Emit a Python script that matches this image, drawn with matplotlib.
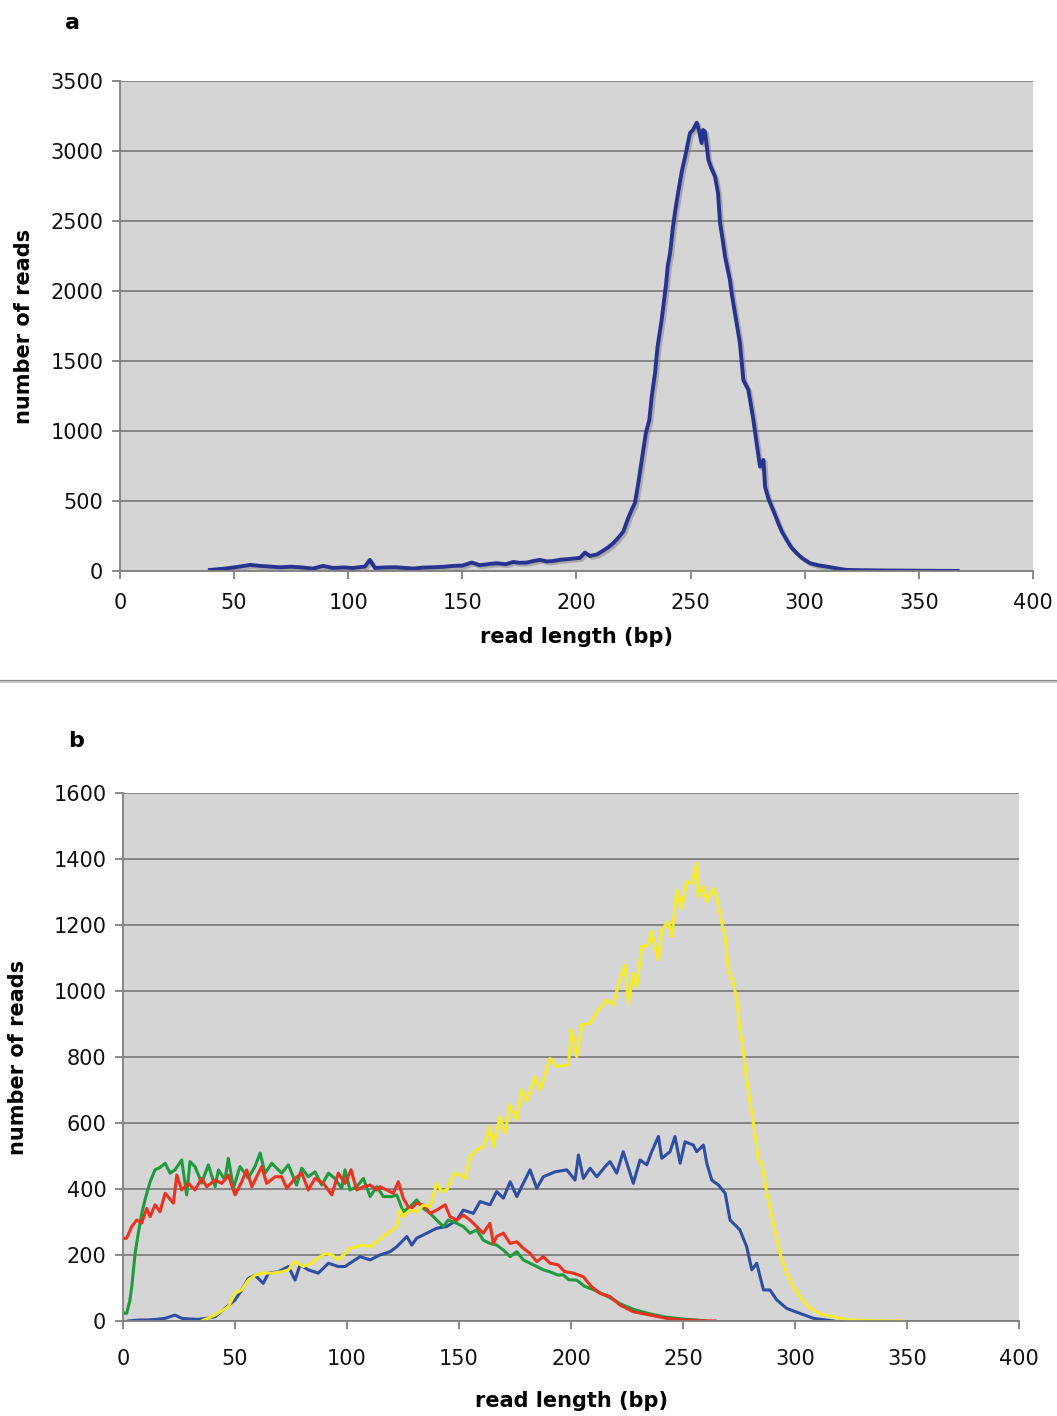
import numpy as np
import matplotlib
matplotlib.use('Agg')
import matplotlib.pyplot as plt
import matplotlib.patheffects as pe
from matplotlib.lines import Line2D

# panel a: all reads
len_a = [39.4, 45, 50.4, 54, 57, 61.3, 65, 70, 75, 78.9, 84.6, 89, 93.3, 98, 102, 107.3, 109.5, 111.7,
	116, 121.2, 128.4, 133, 137.1, 142, 146, 150, 154.1, 157.7, 162, 165, 169, 172.3, 175, 178.2, 181,
	184, 187, 189.8, 193, 197.2, 201.5, 203.7, 205.9, 209, 211.7, 214, 216.1, 218.5, 220.5, 222.7, 224,
	225.6, 227, 228.6, 230.4, 231.9, 233, 234.4, 235.5, 237.3, 239.2, 240, 241, 242.2, 243.2, 244.5,
	246.1, 248, 249.7, 251, 252.7, 253.6, 254.8, 255.5, 256.3, 257.8, 259, 260.7, 262, 262.9, 264,
	265.1, 267.2, 268, 269.4, 271.6, 273.1, 275.3, 277.5, 278.9, 280.4, 281.9, 282.6, 284, 285.5, 287,
	288.4, 290, 292.1, 294, 296.5, 299, 302.3, 306, 309.6, 314, 318.4, 325, 335, 345, 355, 367]
reads_a = [7, 15, 26, 35, 43, 36, 32, 26, 30, 26, 17, 36, 21, 25, 21, 31, 79, 21,
	25, 26, 17, 24, 26, 30, 36, 38, 60, 41, 50, 55, 48, 64, 58, 60, 70,
	79, 68, 71, 80, 86, 93, 131, 107, 118, 145, 170, 198, 240, 281, 380, 430,
	486, 620, 793, 986, 1078, 1250, 1414, 1600, 1793, 2043, 2180, 2271, 2450, 2567, 2700,
	2852, 2990, 3128, 3150, 3202, 3150, 3057, 3150, 3138, 2936, 2880, 2817, 2700, 2486, 2370,
	2245, 2079, 1980, 1843, 1628, 1364, 1293, 1078, 914, 745, 793, 602, 520, 459, 400,
	341, 280, 221, 170, 126, 90, 55, 40, 31, 18, 7, 5, 3, 2, 1, 0]

# panel b: four subsets
len_green = [0, 1.6, 3, 3.9, 5.4, 6.8, 8.5, 9.8, 12.1, 14.3, 16.5, 18.8, 21, 23.2, 26.2, 28.4, 29.9,
	32.1, 35.1, 38.1, 41.1, 42.6, 45.5, 47, 49.3, 52.2, 55.9, 58.9, 61.2, 63.4, 66.4, 70.8, 73.8, 77.5,
	79.8, 82.7, 85.7, 88.7, 91.7, 94.6, 97.6, 99.1, 101.3, 104.3, 107.3, 110.3, 113.3, 116.2, 120,
	122.2, 125.1, 128.1, 131.1, 134.1, 137.1, 140, 143, 145.2, 149, 151.9, 154.9, 157.9, 160.8, 163.8,
	166.8, 169.8, 172.8, 175.8, 178.7, 181.7, 184.7, 187.6, 190.6, 194.3, 196.5, 199, 202.5, 206, 210,
	213, 217, 222, 228, 235, 242, 250, 256, 260]
reads_green = [25, 23, 60, 104, 205, 266, 330, 367, 422, 458, 465, 478, 448, 458, 488, 382, 483,
	468, 418, 473, 407, 458, 427, 493, 403, 468, 433, 468, 509, 448, 478, 448, 473, 412,
	463, 437, 452, 412, 448, 432, 402, 458, 397, 407, 432, 377, 407, 377, 377,
	382, 331, 346, 367, 341, 326, 306, 286, 306, 296, 286, 266, 276, 245, 235,
	230, 215, 195, 210, 185, 175, 165, 155, 149, 139, 140, 125, 124, 105, 95,
	85, 72, 52, 35, 22, 12, 6, 3, 0]

len_red = [0, 1.6, 3.9, 6.1, 8.3, 10.6, 12.1, 14.3, 16.5, 18.8, 22.5, 24, 26.2, 29.2, 32.1, 35.1, 37.4,
	41.1, 44.1, 47, 50, 53, 55.2, 57.5, 61.9, 64.1, 67.9, 70.8, 73.1, 76.8, 79.8, 82.7, 85.7, 89.4,
	93.2, 96.1, 99.1, 101.8, 104.3, 107.3, 110.3, 113.3, 114.7, 117.7, 120.7, 122.9, 125.1, 128.1,
	131.1, 134.1, 137.1, 140, 143.8, 146, 149, 151.9, 154.9, 157.9, 160.8, 163.8, 165.3, 166.8, 169.8,
	172.8, 175.8, 178.7, 181.7, 184.7, 187.6, 190.6, 194.3, 197, 201, 205.5, 209, 212.9, 217.4, 221.9,
	227.8, 235.3, 242.7, 250.1, 257.6, 264.3]
reads_red = [250, 251, 286, 306, 297, 341, 316, 352, 331, 387, 357, 442, 397, 417, 397, 432, 407,
	427, 417, 442, 382, 422, 458, 407, 468, 417, 437, 437, 402, 432, 448, 397, 432, 417,
	382, 448, 417, 458, 397, 407, 412, 397, 407, 397, 387, 422, 372, 336,
	357, 352, 326, 336, 352, 316, 306, 321, 306, 286, 266, 296, 235, 256, 266,
	235, 240, 220, 205, 180, 195, 175, 170, 150, 145, 134, 105, 84, 74, 48,
	28, 18, 8, 3, 1, 0]

len_blue = [2.4, 7, 11.3, 15, 18.8, 23.2, 26.2, 30, 33.6, 37, 41.1, 45.5, 50, 53, 55.9, 58.9, 62.6,
	64.9, 69.3, 73.8, 76.8, 79, 82.7, 87.2, 91.7, 96.1, 99.1, 101.3, 105.8, 110.3, 114.7, 119.2, 122.2,
	126.7, 128.9, 131.1, 135.6, 140, 144.5, 149, 151.9, 156.4, 159.4, 163.8, 166.8, 169.8, 172.8,
	175.8, 177.2, 181.7, 184.7, 187.6, 192.9, 198.1, 201.8, 203.3, 205.5, 208.5, 211.5, 215.9, 217.4,
	220.4, 223.3, 227.8, 230.8, 233.8, 236, 239, 240.5, 244.2, 246.4, 248.7, 250.9, 254.6, 256.1,
	259.1, 260.6, 262.8, 265.8, 268.8, 271, 275.4, 278.4, 280.7, 282.9, 285.9, 288.8, 291.8, 296.3,
	302.2, 308.2, 317.1]
reads_blue = [0, 3, 3, 5, 8, 18, 8, 6, 5, 8, 13, 38, 64, 94, 129, 139, 114,
	145, 149, 165, 124, 170, 155, 145, 175, 165, 165, 175, 195, 185, 200, 210, 225,
	256, 230, 251, 266, 281, 286, 306, 336, 326, 362, 352, 392, 372, 422,
	377, 397, 458, 402, 437, 452, 458, 427, 503, 432, 463, 437, 473, 483,
	448, 513, 417, 488, 473, 513, 559, 493, 513, 559, 478, 543, 533, 513,
	533, 478, 427, 412, 387, 306, 276, 225, 155, 175, 94, 94, 64, 38,
	23, 8, 0]

len_yellow = [35.1, 41.1, 47, 50, 53, 55.9, 58.9, 61.9, 66.4, 70.8, 73.8, 76.8, 80.5, 84.2, 90.2, 93.2,
	96.1, 99.1, 101.3, 104.3, 107.3, 110.3, 113.3, 116.2, 119.2, 122.2, 123.7, 125.1, 128.1, 131.1,
	134.1, 137.1, 140, 142.3, 144.5, 147.5, 149, 150.4, 152.7, 154.9, 157.9, 160.8, 163.8, 165.3,
	168.3, 170.5, 172.8, 175.8, 178, 180.2, 183.9, 186.2, 190.6, 193.6, 198.8, 200.3, 202.5, 204.8,
	208.5, 212.2, 215.9, 218.9, 221.9, 224.1, 225.6, 227.8, 229.3, 231.6, 234.5, 236, 237.5, 239,
	240.5, 243.4, 245, 247.2, 249.4, 251.6, 253.9, 256.1, 256.8, 259.1, 260.6, 263.5, 265, 267.3,
	268.8, 270.2, 272.5, 274, 275.4, 276.9, 278.4, 280.7, 282.1, 283.6, 285.1, 287.4, 290.3, 293.3,
	296.3, 299.2, 302.2, 305.9, 311.2, 317.1, 324.6, 335, 348]
reads_yellow = [0, 18, 43, 84, 94, 124, 139, 145, 145, 149, 155, 180, 165, 175, 205, 200,
	185, 205, 220, 225, 230, 225, 240, 256, 271, 286, 336, 316, 336, 331,
	352, 346, 417, 392, 397, 442, 448, 442, 432, 498, 518, 528, 589, 528,
	619, 569, 655, 609, 700, 665, 740, 700, 796, 771, 776, 882, 801, 897,
	902, 942, 973, 958, 1038, 1079, 963, 1054, 1013, 1134, 1139, 1180, 1134, 1094,
	1185, 1210, 1165, 1306, 1251, 1331, 1326, 1387, 1286, 1316, 1271, 1311, 1286, 1205,
	1165, 1064, 1023, 973, 882, 821, 730, 629, 569, 488, 478, 387, 296, 205,
	145, 104, 74, 43, 21, 13, 3, 1, 0]

x_ticks = np.arange(0, 401, 50)

def styleAxes(ax, ymax, ystep, xpad, xlabpad):
	ax.set_facecolor('#d5d5d5')
	ax.set_xlim(0, 400)
	ax.set_ylim(0, ymax)
	ax.set_xticks(x_ticks)
	ax.set_yticks(np.arange(0, ymax + 1, ystep))
	ax.yaxis.grid(True, color='#7f7f7f', linewidth=1.3)
	ax.set_axisbelow(True)
	for s in ['top', 'right']:
		ax.spines[s].set_visible(False)
	for s in ['left', 'bottom']:
		ax.spines[s].set_color('#808080')
		ax.spines[s].set_linewidth(1.3)
	ax.tick_params(direction='out', length=6, width=1.3, color='#808080',
		labelsize=15, labelcolor='#111111', pad=6)
	ax.tick_params(axis='x', pad=xpad)
	ax.set_xlabel("read length (bp)", fontsize=15, fontweight='bold', labelpad=xlabpad)
	ax.set_ylabel("number of reads", fontsize=15, fontweight='bold')

fig = plt.figure(figsize=(10.57, 14.16), dpi=100)

ax1 = fig.add_axes([0.1135, 0.5968, 0.8638, 0.346])
styleAxes(ax1, 3500, 500, 10, 10)
ax1.plot(len_a, reads_a, color='#27338f', linewidth=2.8,
	path_effects=[pe.SimpleLineShadow(offset=(1.5, -1.5), shadow_color='#808080', alpha=0.5), pe.Normal()])
ax1.yaxis.set_label_coords(-0.094, 0.5)
fig.text(0.069, 0.984, "a", fontsize=16, fontweight='bold', ha='center', va='center')

# separator between the panels
fig.add_artist(Line2D([0, 1], [0.5194, 0.5194], color='#8c8c8c', linewidth=1.6))
fig.add_artist(Line2D([0, 1], [0.5182, 0.5182], color='#c8c8c8', linewidth=1.2))

ax2 = fig.add_axes([0.1164, 0.0671, 0.8477, 0.3729])
styleAxes(ax2, 1600, 200, 14, 16)
ax2.plot(len_blue, reads_blue, color='#2f4ea3', linewidth=2.2)
ax2.plot(len_green, reads_green, color='#1f9a3c', linewidth=2.2)
ax2.plot(len_red, reads_red, color='#ea3220', linewidth=2.2)
ax2.plot(len_yellow, reads_yellow, color='#f3ea2c', linewidth=2.2)
ax2.yaxis.set_label_coords(-0.106, 0.5)
fig.text(0.072, 0.477, "b", fontsize=16, fontweight='bold', ha='center', va='center')

fig.savefig('out.png', dpi=100)
